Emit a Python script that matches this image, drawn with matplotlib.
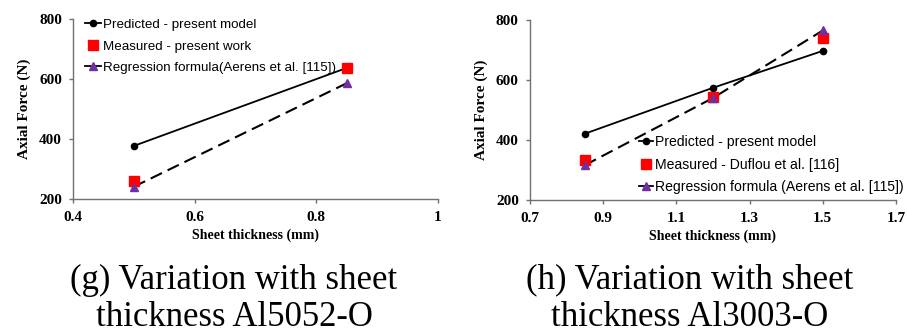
import matplotlib
matplotlib.use("Agg")
import matplotlib.pyplot as plt
from matplotlib.lines import Line2D

# Data (g) Al5052-O
thick_g = [0.5, 0.85]
pred_g = [377, 637]
meas_g = [260, 638]
regr_g = [241, 586]

# Data (h) Al3003-O
thick_h = [0.85, 1.2, 1.5]
pred_h = [421, 574, 697]
meas_h = [334, 544, 741]
regr_h = [316, 540, 765]

xticks_g = [0.4, 0.6, 0.8, 1.0]
xticklabels_g = ["0.4", "0.6", "0.8", "1"]
xticks_h = [0.7, 0.9, 1.1, 1.3, 1.5, 1.7]
xticklabels_h = ["0.7", "0.9", "1.1", "1.3", "1.5", "1.7"]
yticks = [200, 400, 600, 800]

labels_g = ["Predicted - present model", "Measured - present work",
            "Regression formula(Aerens et al. [115])"]
labels_h = ["Predicted - present model", "Measured - Duflou et al. [116]",
            "Regression formula (Aerens et al. [115])"]

SERIF = "Liberation Serif"
SANS = "Liberation Sans"
PURPLE = "#7030A0"
RED = "#FF0000"
AXC = "#707070"

fig = plt.figure(figsize=(9.07, 3.36), dpi=100)
ax1 = fig.add_axes([0.0805, 0.4077, 0.4024, 0.5357])
ax2 = fig.add_axes([0.5843, 0.4048, 0.4035, 0.5357])


def style(ax, xticks, xlabels, xlim):
    ax.set_xlim(*xlim)
    ax.set_ylim(200, 800)
    ax.set_xticks(xticks)
    ax.set_xticklabels(xlabels)
    ax.set_yticks(yticks)
    for s in ["top", "right"]:
        ax.spines[s].set_visible(False)
    for s in ["left", "bottom"]:
        ax.spines[s].set_color(AXC)
        ax.spines[s].set_linewidth(1.0)
    ax.tick_params(direction="out", length=3, width=1.0, color=AXC)
    ax.tick_params(axis="y", pad=5)
    ax.tick_params(axis="x", pad=5.5)
    for lab in ax.get_xticklabels() + ax.get_yticklabels():
        lab.set_fontfamily(SERIF)
        lab.set_fontweight("bold")
        lab.set_fontsize(11)
    ax.set_xlabel("Sheet thickness (mm)", fontfamily=SERIF, fontweight="bold",
                  fontsize=10, labelpad=3.5)
    ax.set_ylabel("Axial Force (N)", fontfamily=SERIF, fontweight="bold",
                  fontsize=11, labelpad=6)


def draw(ax, x, pred, meas, regr):
    ax.plot(x, pred, color="black", lw=1.3, marker="o", ms=4.5,
            clip_on=False, zorder=3)
    ax.plot(x, regr, color="black", lw=1.5, dashes=(6, 3), zorder=2)
    ax.plot(x, meas, linestyle="none", marker="s", ms=6.5, color=RED,
            clip_on=False, zorder=4)
    ax.plot(x, regr, linestyle="none", marker="^", ms=5.5, color=PURPLE,
            clip_on=False, zorder=5)


def legend_handles():
    h1 = Line2D([], [], color="black", lw=1.3, marker="o", ms=4.5)
    h2 = Line2D([], [], linestyle="none", marker="s", ms=6.5, color=RED)
    h3 = Line2D([], [], color="black", lw=1.3, marker="^", ms=5.5,
                markerfacecolor=PURPLE, markeredgecolor=PURPLE)
    return [h1, h2, h3]


draw(ax1, thick_g, pred_g, meas_g, regr_g)
draw(ax2, thick_h, pred_h, meas_h, regr_h)
style(ax1, xticks_g, xticklabels_g, (0.4, 1.0))
style(ax2, xticks_h, xticklabels_h, (0.7, 1.7))

leg1 = ax1.legend(legend_handles(), labels_g, loc="upper left",
                  bbox_to_anchor=(0.019, 1.031), frameon=False,
                  prop={"family": SANS, "size": 9.6}, handlelength=1.2,
                  handletextpad=0.1, labelspacing=0.68, borderaxespad=0)
leg2 = ax2.legend(legend_handles(), labels_h, loc="lower right",
                  bbox_to_anchor=(1.036, 0.0), frameon=False,
                  prop={"family": SANS, "size": 10.1}, handlelength=1.0,
                  handletextpad=0.1, labelspacing=0.62, borderaxespad=0)

fig.text(234 / 907, 1 - 280 / 336, "(g) Variation with sheet", ha="center",
         va="center", fontfamily=SERIF, fontsize=25)
fig.text(234 / 907, 1 - 318 / 336, "thickness Al5052-O", ha="center",
         va="center", fontfamily=SERIF, fontsize=25)
fig.text(690 / 907, 1 - 280 / 336, "(h) Variation with sheet", ha="center",
         va="center", fontfamily=SERIF, fontsize=25)
fig.text(690 / 907, 1 - 318 / 336, "thickness Al3003-O", ha="center",
         va="center", fontfamily=SERIF, fontsize=25)

fig.savefig("out.png", dpi=100)
